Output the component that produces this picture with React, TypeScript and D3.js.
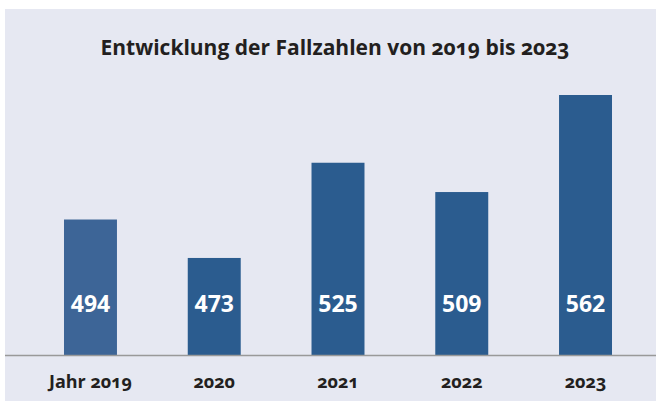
import React from "react";
import * as d3 from "d3";

const categories = ["Jahr 2019", "2020", "2021", "2022", "2023"];
const values = [494, 473, 525, 509, 562];
const title = "Entwicklung der Fallzahlen von 2019 bis 2023";
const barColors = ["#3d6597", "#2b5c8f", "#2b5c8f", "#2b5c8f", "#2b5c8f"];

export default function App() {
  const W = 656, H = 401;
  const x = d3.scaleBand<string>().domain(categories).range([28.6, 647.4]).paddingInner(0.572).paddingOuter(0.286);
  const y = d3.scaleLinear().domain([420, 562]).range([355, 95]);
  const font = "'Open Sans', Lato, sans-serif";
  return (
    <svg width={W} height={H} style={{ position: "absolute", left: 0, top: 0, background: "#fff" }}>
      <rect x={5} y={9} width={W - 5} height={H - 9} fill="#e6e8f2" />
      <text x={335} y={55} textAnchor="middle" fontFamily={font} fontWeight="bold" fontSize={21} fill="#231f20" style={{ fontFeatureSettings: "'onum'" }}>{title}</text>
      {categories.map((c, i) => (
        <g key={c}>
          <rect x={x(c)} y={y(values[i])} width={x.bandwidth()} height={y(420) - y(values[i])} fill={barColors[i]} />
          <text x={(x(c) as number) + x.bandwidth() / 2} y={312} textAnchor="middle" fontFamily={font} fontWeight="bold" fontSize={23} fill="#fff">{values[i]}</text>
          <text x={(x(c) as number) + x.bandwidth() / 2} y={388} textAnchor="middle" fontFamily={font} fontWeight="bold" fontSize={18} fill="#231f20" style={{ fontFeatureSettings: "'onum'" }}>{c}</text>
        </g>
      ))}
      <line x1={5} x2={W} y1={355.5} y2={355.5} stroke="#999" strokeWidth={1.5} />
    </svg>
  );
}
